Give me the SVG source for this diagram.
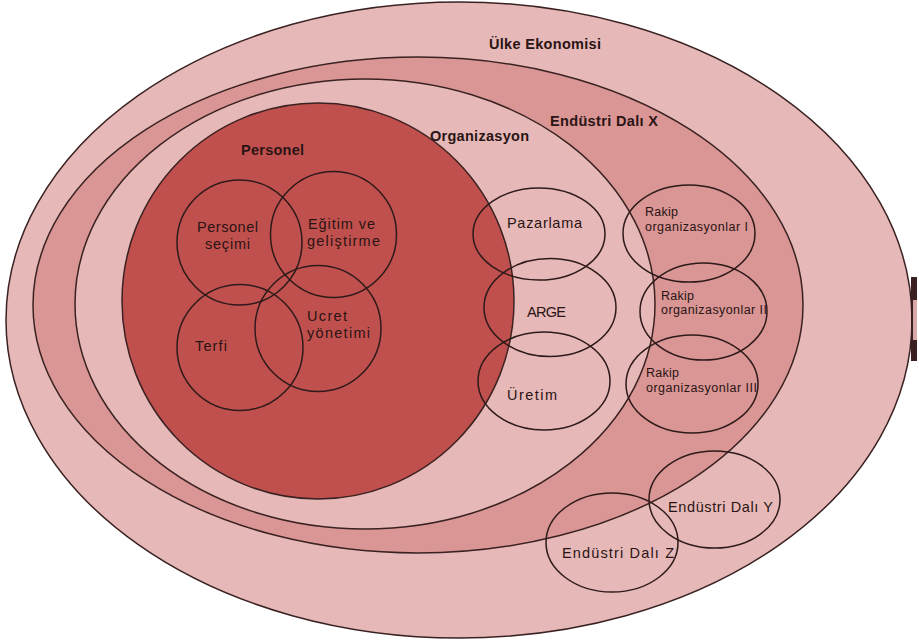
<svg xmlns="http://www.w3.org/2000/svg" width="919" height="641" viewBox="0 0 919 641">
  <style>
    .ring { stroke: #3a2222; stroke-width: 1.5; }
    .sub { fill: none; stroke: #2e1a1a; stroke-width: 1.5; }
    .title { font-family: "Liberation Sans", Arial, sans-serif; font-size: 14.5px; font-weight: bold; fill: #2a1414; }
    .lbl { font-family: "Liberation Sans", Arial, sans-serif; font-size: 14.5px; fill: #2a1414; }
    .small { font-family: "Liberation Sans", Arial, sans-serif; font-size: 12.5px; fill: #2a1414; }
  </style>
  <rect width="919" height="641" fill="#ffffff"/>

  <!-- nested levels, outermost first -->
  <g id="ulke-ekonomisi">
    <ellipse class="ring" cx="459" cy="320" rx="453" ry="318" fill="#e6b9b8"/>
    <text class="title" x="489" y="49" textLength="112">Ülke Ekonomisi</text>
  </g>
  <g id="endustri-dali-x">
    <ellipse class="ring" cx="418" cy="305" rx="385" ry="248" fill="#d99694"/>
    <text class="title" x="550" y="126" textLength="108">Endüstri Dalı X</text>
  </g>
  <g id="organizasyon">
    <ellipse class="ring" cx="365" cy="304" rx="290" ry="225" fill="#e6b9b8"/>
    <text class="title" x="430" y="141" textLength="99">Organizasyon</text>
  </g>
  <g id="personel">
    <ellipse class="ring" cx="318" cy="301" rx="196" ry="198" fill="#c0504d"/>
    <text class="title" x="241" y="155" textLength="63">Personel</text>
  </g>

  <!-- personnel functions -->
  <g id="personel-secimi">
    <circle class="sub" cx="239.5" cy="242.5" r="62.5"/>
    <text class="lbl" x="197" y="232" textLength="61">Personel</text>
    <text class="lbl" x="205" y="249" textLength="45">seçimi</text>
  </g>
  <g id="egitim-gelistirme">
    <circle class="sub" cx="333.5" cy="234.5" r="63"/>
    <text class="lbl" x="308" y="229" textLength="67">Eğitim ve</text>
    <text class="lbl" x="307" y="246" textLength="73">geliştirme</text>
  </g>
  <g id="terfi">
    <circle class="sub" cx="240" cy="347.5" r="63"/>
    <text class="lbl" x="195" y="351" textLength="32">Terfi</text>
  </g>
  <g id="ucret-yonetimi">
    <circle class="sub" cx="318" cy="328.5" r="63"/>
    <text class="lbl" x="307" y="320.5" textLength="40">Ucret</text>
    <text class="lbl" x="307" y="338" textLength="63">yönetimi</text>
  </g>

  <!-- organisation functions -->
  <g id="pazarlama">
    <ellipse class="sub" cx="539" cy="234" rx="66" ry="46"/>
    <text class="lbl" x="507" y="228" textLength="75">Pazarlama</text>
  </g>
  <g id="arge">
    <ellipse class="sub" cx="550" cy="307.5" rx="66" ry="49"/>
    <text class="lbl" x="527" y="317" textLength="39">ARGE</text>
  </g>
  <g id="uretim">
    <ellipse class="sub" cx="544" cy="381" rx="66" ry="49"/>
    <text class="lbl" x="507" y="400" textLength="50">Üretim</text>
  </g>

  <!-- competitors within the industry -->
  <g id="rakip-1">
    <ellipse class="sub" cx="689" cy="233.5" rx="66" ry="48.5"/>
    <text class="small" x="645" y="216" textLength="33">Rakip</text>
    <text class="small" x="645" y="231" textLength="103">organizasyonlar I</text>
  </g>
  <g id="rakip-2">
    <ellipse class="sub" cx="703.5" cy="311.5" rx="63.5" ry="48.5"/>
    <text class="small" x="661" y="300" textLength="33">Rakip</text>
    <text class="small" x="661" y="314" textLength="106">organizasyonlar II</text>
  </g>
  <g id="rakip-3">
    <ellipse class="sub" cx="692" cy="384" rx="66" ry="49"/>
    <text class="small" x="646" y="377" textLength="33">Rakip</text>
    <text class="small" x="646" y="392" textLength="111">organizasyonlar III</text>
  </g>

  <!-- neighbouring industries -->
  <g id="endustri-dali-y">
    <ellipse class="sub" cx="714.5" cy="499.5" rx="65.5" ry="48.5"/>
    <text class="lbl" x="668" y="512" textLength="105">Endüstri Dalı Y</text>
  </g>
  <g id="endustri-dali-z">
    <ellipse class="sub" cx="612" cy="542.5" rx="66" ry="49.5"/>
    <text class="lbl" x="562" y="558" textLength="112">Endüstri Dalı Z</text>
  </g>

  <!-- dark mark on the right rim -->
  <g id="rim-mark">
    <rect x="911" y="277" width="6" height="84" fill="#3a2020"/>
    <rect x="913" y="300" width="4" height="40" fill="#d9a9a9"/>
  </g>

  <g id="connectors"/>
</svg>
